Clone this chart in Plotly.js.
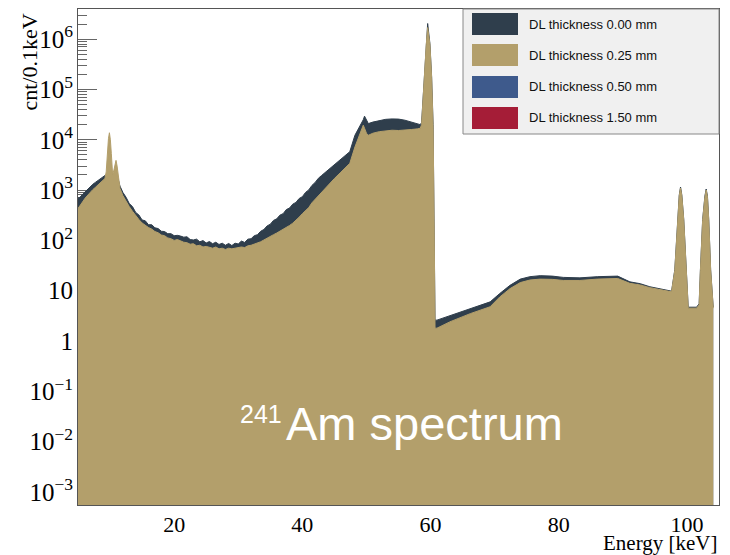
<!DOCTYPE html>
<html>
<head>
<meta charset="utf-8">
<script src="https://cdn.plot.ly/plotly-3.0.1.min.js"></script>
<style>html,body{margin:0;padding:0;background:#fff;}#chart{width:730px;height:555px;}</style>
</head>
<body>
<div id="chart"></div>
<script>
// Energy bins (keV)
const energy = [5.0,5.3,5.7,6.1,6.5,6.9,7.3,7.7,8.1,8.5,8.9,9.2,9.4,9.55,9.75,9.9,10.05,10.2,10.4,10.6,10.75,10.93,11.1,11.3,11.55,12.0,12.5,13.0,13.5,14.0,14.5,15.0,15.5,16.0,16.5,17.0,17.5,18.0,18.5,19.0,19.5,20.0,20.5,21.0,21.5,22.0,22.5,23.0,23.5,24.0,24.5,25.0,25.5,26.0,26.5,27.0,27.5,28.0,28.5,29.0,29.5,30.0,30.5,31.0,31.5,32.0,32.5,33.0,33.5,34.0,34.5,35.0,35.5,36.0,36.5,37.0,37.5,38.0,38.5,39.0,39.5,40.0,40.5,41.0,41.5,42.0,42.5,43.0,44.0,45.0,45.9,46.7,47.4,48.2,49.0,49.5,49.7,50.0,50.3,51.0,52.0,53.0,54.0,55.0,56.0,57.0,58.0,58.4,58.6,59.0,59.33,59.55,59.9,60.17,60.4,60.55,60.7,61.0,63.0,66.2,69.3,70.8,72.4,74.0,75.5,77.1,79.0,80.7,83.3,86.0,88.5,89.2,91.1,92.7,94.2,96.3,97.6,98.1,98.5,98.8,99.0,99.2,99.5,99.85,100.2,101.5,101.9,102.1,102.45,102.8,103.0,103.2,103.4,103.7,104.1];

// Counts per 0.1 keV, DL thickness 0.00 mm
const counts000 = [690,720,820,930,1050,1150,1300,1420,1560,1700,1880,2000,2050,2100,2150,2150,2150,2150,2100,2050,2000,1950,1850,1600,1200,900,720,540,470,360,320,255,245,205,205,178,172,152,150,136,136,124,126,122,116,118,104,102,106,94,99,89,95,86,92,83,88,80,87,79,88,85,97,91,106,108,124,130,152,165,194,210,250,268,318,340,410,440,525,570,680,740,900,1010,1240,1420,1720,1950,2500,3100,3900,4800,5800,12300,18300,25000,29500,24000,21000,22500,24000,25500,26000,25800,24500,22500,20500,20000,22000,180000,820000,2050000,820000,180000,20000,300,2.6,2.6,3.2,4.5,6.0,8.8,12.8,17,19,19.9,19.5,18.4,18,19,19,19.5,15,13.8,12,10.8,9.8,26,260,800,1150,800,260,26,4.7,4.7,5.5,26,260,760,1050,760,260,26,4.7];

// Counts per 0.1 keV, DL thickness 0.25 mm
const counts025 = [430,500,580,690,800,910,1020,1130,1250,1380,1550,1700,2300,5200,10500,13800,10000,5300,2050,2500,3400,3900,3000,1750,1080,780,590,470,380,310,260,222,198,180,168,150,142,128,124,112,108,100,104,98,92,90,84,86,78,80,74,76,72,70,74,68,70,66,70,68,70,72,74,72,78,80,84,88,94,102,112,120,130,140,152,165,180,198,220,250,290,340,390,450,560,660,780,900,1250,1700,2200,2800,3400,7200,13400,19500,17000,13500,12300,13500,14500,15200,15500,15300,15500,16000,16500,17000,20000,170000,780000,1700000,780000,170000,17000,250,1.8,1.8,2.4,3.5,4.8,7.5,11,14.5,16.3,17,16.8,16,16,17,17.5,17.5,14,13,11.5,10.3,9.5,25,250,760,1100,760,250,25,4.5,4.5,5.2,25,250,720,1000,720,250,25,4.5];

const seriesNames = ['DL thickness 0.00 mm','DL thickness 0.25 mm','DL thickness 0.50 mm','DL thickness 1.50 mm'];
const seriesColors = ['#2f3e4c','#b39f6b','#3e5a8c','#a51d37'];

const W = 730, H = 555, ML = 78, MR = 11, MT = 9, MB = 50;
const PW = W - ML - MR, PH = H - MT - MB;
const px = x => (x - ML) / PW;
const py = y => (H - MB - y) / PH;

const traces = [
  {x: energy, y: counts000, type:'scatter', mode:'lines', fill:'tozeroy',
   fillcolor: seriesColors[0], line:{color: seriesColors[0], width:1}, name: seriesNames[0], hoverinfo:'skip'},
  {x: energy, y: counts025, type:'scatter', mode:'lines', fill:'tozeroy',
   fillcolor: seriesColors[1], line:{color: seriesColors[1], width:1}, name: seriesNames[1], hoverinfo:'skip'}
];

const shapes = [
  {type:'rect', xref:'paper', yref:'paper', x0:px(463), x1:px(719), y0:py(134), y1:py(9),
   fillcolor:'#f0f0f0', line:{color:'#888', width:1}, layer:'above'}
];
const annotations = [];
const rowTop = [13, 44, 76, 107];
for (let i = 0; i < 4; i++) {
  shapes.push({type:'rect', xref:'paper', yref:'paper', x0:px(472), x1:px(518),
    y0:py(rowTop[i] + 22), y1:py(rowTop[i]), fillcolor: seriesColors[i], line:{width:0}, layer:'above'});
  annotations.push({xref:'paper', yref:'paper', x:px(527), y:py(rowTop[i] + 11), xanchor:'left', yanchor:'middle',
    text: seriesNames[i], showarrow:false, font:{family:'Liberation Sans, Arial, sans-serif', size:13, color:'#111'}});
}
annotations.push({xref:'paper', yref:'paper', x:px(29), y:py(12), xanchor:'center', yanchor:'top', textangle:-90,
  text:'cnt/0.1keV', showarrow:false, font:{family:'Liberation Serif, Times New Roman, serif', size:22, color:'#000'}});
annotations.push({xref:'paper', yref:'paper', x:px(719), y:py(543), xanchor:'right', yanchor:'middle', borderpad:0,
  text:'Energy [keV]', showarrow:false, font:{family:'Liberation Serif, Times New Roman, serif', size:21, color:'#000'}});
annotations.push({xref:'paper', yref:'paper', x:px(284), y:py(443), xanchor:'left', yanchor:'bottom', yshift:-9,
  text:'Am spectrum', showarrow:false, font:{family:'Liberation Sans, Arial, sans-serif', size:47, color:'#fff'}});
annotations.push({xref:'paper', yref:'paper', x:px(284), y:py(414), xanchor:'right', yanchor:'middle',
  text:'241', showarrow:false, font:{family:'Liberation Sans, Arial, sans-serif', size:25, color:'#fff'}});

const layout = {
  width: W, height: H,
  margin: {l:ML, r:MR, t:MT, b:MB, pad:0},
  paper_bgcolor:'#fff', plot_bgcolor:'#fff',
  showlegend:false,
  xaxis: {range:[5,105], tick0:0, dtick:20, ticks:'', showline:true, mirror:true, linecolor:'#555', linewidth:1,
    showgrid:false, zeroline:false, layer:'above traces',
    tickfont:{family:'Liberation Serif, Times New Roman, serif', size:22, color:'#000'}},
  yaxis: {type:'log', range:[-3.26, 6.6], dtick:1, exponentformat:'power', ticks:'inside', ticklen:19, tickcolor:'#666',
    minor:{dtick:'D1', ticks:'inside', ticklen:9, tickcolor:'#666', showgrid:false},
    showline:true, mirror:true, linecolor:'#555', linewidth:1, showgrid:false, zeroline:false, layer:'below traces',
    tickfont:{family:'Liberation Serif, Times New Roman, serif', size:20, color:'#000'}},
  shapes: shapes,
  annotations: annotations
};

Plotly.newPlot('chart', traces, layout, {staticPlot:true, displayModeBar:false});
</script>
</body>
</html>
